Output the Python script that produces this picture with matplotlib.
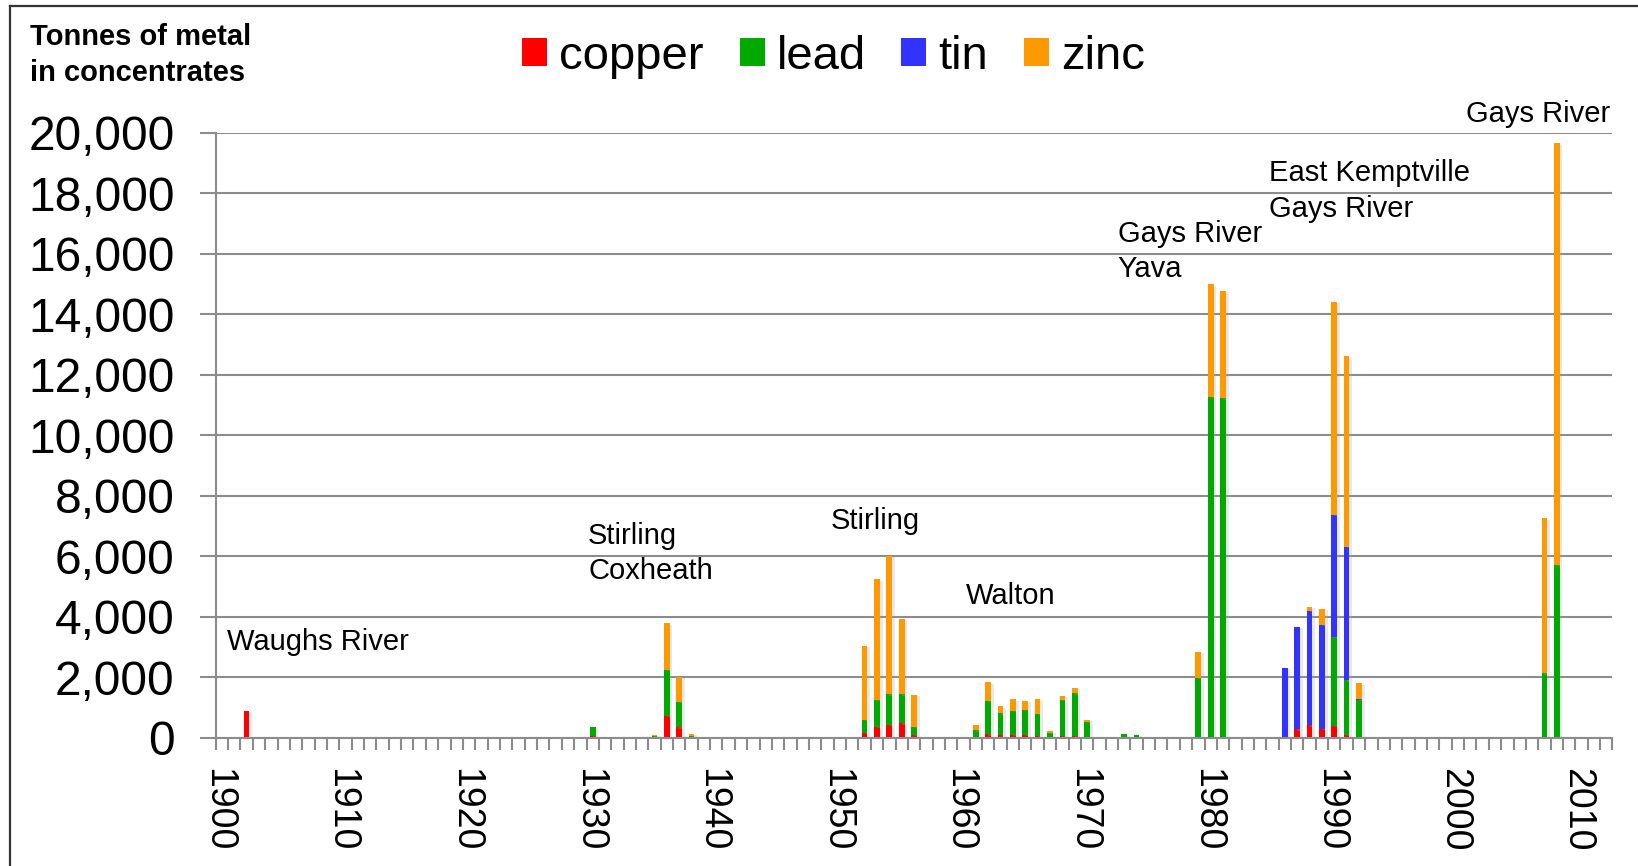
import matplotlib
matplotlib.use("Agg")
import matplotlib.pyplot as plt
import matplotlib.ticker as mticker
import matplotlib.patheffects as pe
import matplotlib.transforms as mtransforms
from matplotlib.patches import Patch
from matplotlib.lines import Line2D
import numpy as np

plt.rcParams['font.family'] = ['Liberation Sans', 'DejaVu Sans']

# ---- data (tonnes of metal in concentrates) ----
years = [1902, 1930, 1935, 1936, 1937, 1938, 1952, 1953, 1954, 1955, 1956,
         1961, 1962, 1963, 1964, 1965, 1966, 1967, 1968, 1969, 1970, 1973, 1974,
         1979, 1980, 1981, 1986, 1987, 1988, 1989, 1990, 1991, 1992, 2007, 2008]
copper = [880, 70, 20, 730, 350, 20, 170, 360, 420, 470, 100,
          0, 110, 80, 100, 90, 70, 10, 60, 40, 0, 0, 0,
          0, 0, 0, 0, 280, 410, 290, 400, 90, 0, 0, 0]
lead = [0, 290, 30, 1510, 830, 50, 420, 900, 1020, 970, 260,
        250, 1110, 730, 780, 830, 710, 150, 1200, 1430, 530, 110, 90,
        1980, 11270, 11220, 0, 0, 0, 0, 2940, 1810, 1245, 2130, 5710]
tin = [0, 0, 0, 0, 0, 0, 0, 0, 0, 0, 0,
       0, 0, 0, 0, 0, 0, 0, 0, 0, 0, 0, 0,
       0, 0, 0, 2310, 3380, 3780, 3450, 4030, 4420, 20, 0, 0]
zinc = [0, 0, 50, 1540, 840, 50, 2450, 3970, 4570, 2500, 1050,
        170, 610, 230, 390, 300, 510, 50, 130, 170, 55, 0, 0,
        860, 3720, 3550, 0, 0, 140, 530, 7030, 6290, 530, 5120, 13940]

series_names = ["copper", "lead", "tin", "zinc"]
series_colors = ["#FF0000", "#00AA00", "#3333FF", "#FF9900"]

year_start, year_end = 1900, 2012
tick_label_years = list(range(1900, 2011, 10))
y_ticks = list(range(0, 20001, 2000))

annotations = [
    ("Waughs River", 1900.44, 2900),
    ("Stirling", 1929.63, 6403),
    ("Coxheath", 1929.63, 5246),
    ("Stirling", 1949.24, 6899),
    ("Walton", 1960.23, 4420),
    ("Gays River", 1972.48, 16387),
    ("Yava", 1972.48, 15230),
    ("East Kemptville", 1984.73, 18403),
    ("Gays River", 1984.73, 17213),
    ("Gays River", 2000.62, 20364),
]

# ---- figure ----
W, H = 1638, 866
fig = plt.figure(figsize=(W / 100, H / 100), dpi=100)
left_px, right_px, bottom_px, top_px = 215.7, 1612.4, 737.7, 132.7
ax = fig.add_axes([left_px / W, 1 - bottom_px / H,
                   (right_px - left_px) / W, (bottom_px - top_px) / H])

grid_col = "#8C8C8C"
ax.set_axisbelow(True)
ax.yaxis.grid(True, color=grid_col, linewidth=1.5)

bottom = np.zeros(len(years))
shadow = [pe.SimplePatchShadow(offset=(2, -1), shadow_rgbFace="#AAAAAA", alpha=0.25), pe.Normal()]
for name, vals, col in zip(series_names, [copper, lead, tin, zinc], series_colors):
    v = np.array(vals, dtype=float)
    ax.bar(years, v, bottom=bottom, width=0.46, color=col, linewidth=0,
           path_effects=shadow, label=name)
    bottom += v

ax.set_xlim(year_start - 0.5, year_end + 0.5)
ax.set_ylim(0, 20000)

# x axis: labels at decades, tick marks between categories
ax.set_xticks(tick_label_years)
ax.set_xticklabels([str(y) for y in tick_label_years], rotation=-90, fontsize=27)
ax.set_xticks(np.arange(year_start - 0.5, year_end + 0.51, 1.0), minor=True)
ax.tick_params(axis='x', which='major', length=0, pad=22)
ax.tick_params(axis='x', which='minor', length=8.6, width=1.5, color=grid_col, direction='out')
shift = mtransforms.ScaledTranslation(-4 / 100, 0, fig.dpi_scale_trans)
for lab in ax.get_xticklabels():
    lab.set_transform(lab.get_transform() + shift)

ax.set_yticks(y_ticks)
ax.yaxis.set_major_formatter(mticker.StrMethodFormatter('{x:,.0f}'))
ax.tick_params(axis='y', which='major', length=11.5, width=1.5, color=grid_col,
               labelsize=34.5, pad=18)

for s in ["top", "right"]:
    ax.spines[s].set_visible(False)
for s in ["left", "bottom"]:
    ax.spines[s].set_color(grid_col)
    ax.spines[s].set_linewidth(1.5)

for txt, x, y in annotations:
    ax.text(x, y, txt, fontsize=21, ha='left', va='baseline', clip_on=False)

# axis title
fig.text(30 / W, 1 - 45 / H, "Tonnes of metal", fontsize=21, fontweight='bold',
         ha='left', va='baseline')
fig.text(30 / W, 1 - 81 / H, "in concentrates", fontsize=21, fontweight='bold',
         ha='left', va='baseline')

# legend
handles = [Patch(facecolor=c, edgecolor='none', label=n) for n, c in zip(series_names, series_colors)]
fig.legend(handles=handles, loc='center', bbox_to_anchor=(833.5 / W, 1 - 56.7 / H),
           ncol=4, frameon=False, fontsize=34, handlelength=0.53, handleheight=0.53,
           handletextpad=0.25, columnspacing=0.76, borderpad=0, borderaxespad=0)

# outer border (left and top)
fig.add_artist(Line2D([10 / W, 10 / W], [0, 1 - 6 / H], transform=fig.transFigure,
                      color="#333333", linewidth=1.6))
fig.add_artist(Line2D([10 / W, 1], [1 - 6 / H, 1 - 6 / H], transform=fig.transFigure,
                      color="#333333", linewidth=1.6))

fig.savefig("out.png", dpi=100)
